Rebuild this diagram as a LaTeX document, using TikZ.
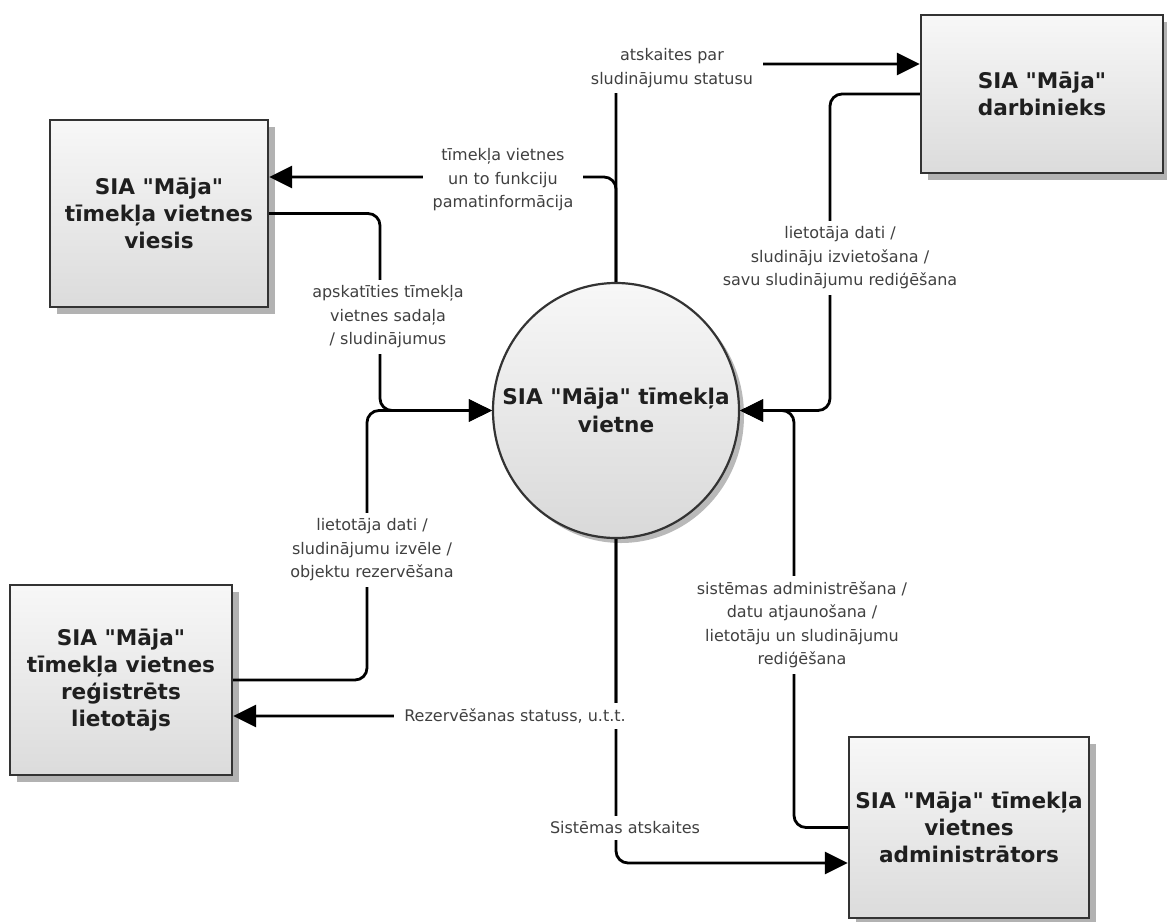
\documentclass[tikz,border=0pt]{standalone}
\usepackage{fontspec}
\setmainfont{DejaVu Sans}[Ligatures=TeXOff]
\usetikzlibrary{arrows.meta,shapes.geometric,shadows}

\begin{document}
\begin{tikzpicture}[x=1pt,y=-1pt,
  entity/.style={rectangle, draw=black!80, line width=2.4pt,
    top color=gray!6, bottom color=gray!28, align=center, inner sep=0pt,
    font=\bfseries\fontsize{21.6}{27}\selectfont, text=black!88,
    drop shadow={shadow xshift=7pt, shadow yshift=-7pt, fill=gray!60, opacity=1}},
  process/.style={ellipse, draw=black!80, line width=2.2pt,
    top color=gray!6, bottom color=gray!30, inner sep=0pt,
    minimum width=246pt, minimum height=255pt,
    drop shadow={shadow xshift=5pt, shadow yshift=-5pt, fill=gray!55, opacity=1}},
  proctext/.style={align=center, inner sep=0pt,
    font=\bfseries\fontsize{21.6}{28}\selectfont, text=black!88},
  flow/.style={line width=2.8pt, rounded corners=12pt,
    -{Triangle[length=23pt,width=22pt]}},
  lbl/.style={fill=white, inner xsep=10pt, inner ysep=6pt, align=center,
    text=black!75, font=\fontsize{16}{23.5}\selectfont}]

\useasboundingbox (0,0) rectangle (1167,921);

% external entities and the process
\node[entity, minimum width=218pt, minimum height=187pt] (guest) at (159,213.5)
  {SIA "Māja"\\tīmekļa vietnes\\viesis};
\node[entity, minimum width=242pt, minimum height=158pt] (staff) at (1042,94)
  {SIA "Māja"\\darbinieks};
\node[entity, minimum width=222pt, minimum height=190pt] (user) at (121,680)
  {SIA "Māja"\\tīmekļa vietnes\\reģistrēts\\lietotājs};
\node[entity, minimum width=240pt, minimum height=181pt] (admin) at (969,827.5)
  {SIA "Māja" tīmekļa\\vietnes\\administrātors};
\node[process] (site) at (616,410.5) {};
\node[proctext] (sitetext) at (site.center) {SIA "Māja" tīmekļa\\vietne};

% routing levels
\coordinate (yA) at (0,64);
\coordinate (yB) at (0,177);
\coordinate (yC) at (0,716);
\coordinate (yD) at (0,863);
\coordinate (kA) at (380,0);
\coordinate (kB) at (367,0);
\coordinate (kC) at (794,0);
\coordinate (kD) at (830,0);

% data flows
\draw[flow] (site.north) |- (staff.west |- yA);
\draw[flow] (site.north) |- (guest.east |- yB);
\draw[flow] (guest.east) -| (kA |- site.west) -- (site.west);
\draw[flow] (user.east) -| (kB |- site.west) -- (site.west);
\draw[flow] (site.south) |- (user.east |- yC);
\draw[flow] (site.south) |- (admin.west |- yD);
\draw[flow] (admin.west) -| (kC |- site.east) -- (site.east);
\draw[flow] (staff.west) -| (kD |- site.east) -- (site.east);

% flow labels
\node[lbl] (l1) at (672,68) {atskaites par\\sludinājumu statusu};
\node[lbl] (l2) at (503,180) {tīmekļa vietnes\\un to funkciju\\pamatinformācija};
\node[lbl] (l3) at (388,317) {apskatīties tīmekļa\\vietnes sadaļa\\/ sludinājumus};
\node[lbl] (l4) at (372,550) {lietotāja dati /\\sludinājumu izvēle /\\objektu rezervēšana};
\node[lbl] (l5) at (515,716) {Rezervēšanas statuss, u.t.t.};
\node[lbl] (l6) at (625,828) {Sistēmas atskaites};
\node[lbl] (l7) at (802,625) {sistēmas administrēšana /\\datu atjaunošana /\\lietotāju un sludinājumu\\rediģēšana};
\node[lbl] (l8) at (840,258) {lietotāja dati /\\sludināju izvietošana /\\savu sludinājumu rediģēšana};
\end{tikzpicture}
\end{document}
